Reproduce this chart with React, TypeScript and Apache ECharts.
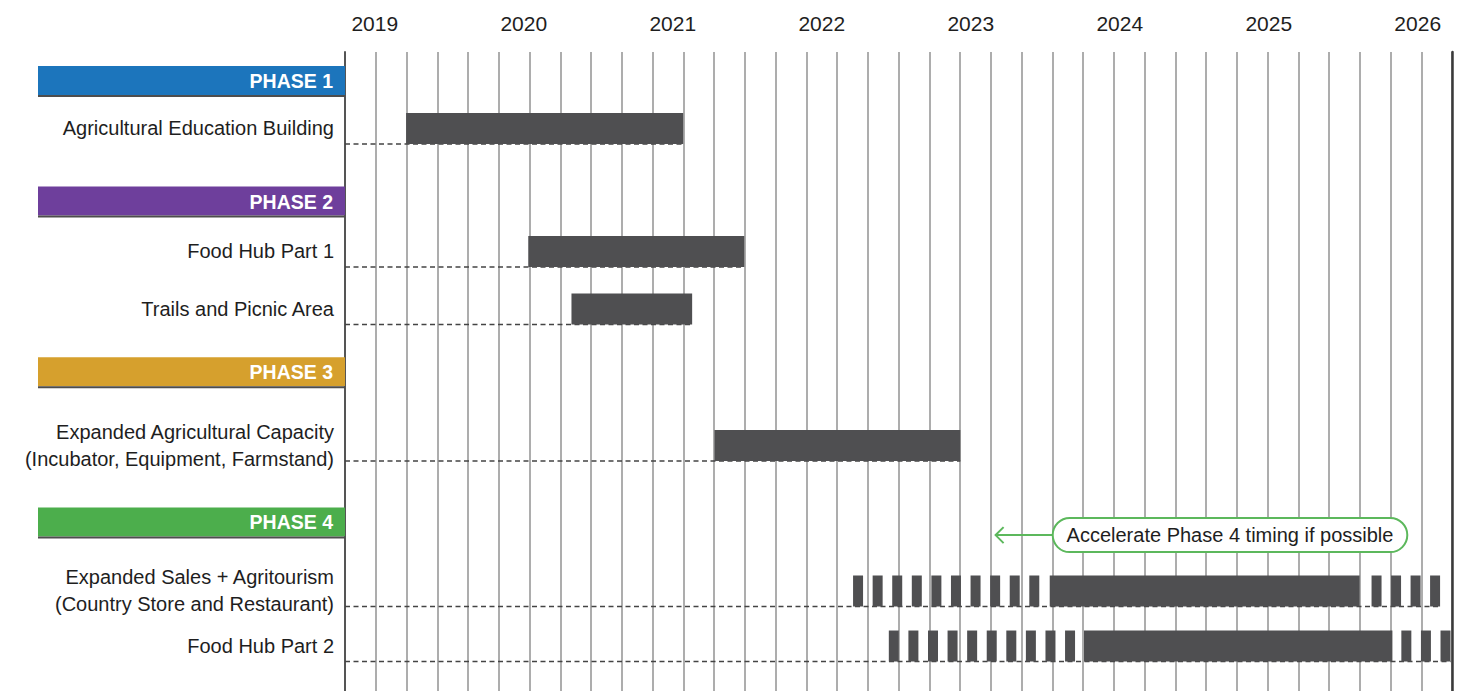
import React, { useEffect, useRef } from "react";
import * as echarts from "echarts";

// ---------------- data ----------------
const yearLabels = [2019, 2020, 2021, 2022, 2023, 2024, 2025, 2026];
const phaseNames = ["PHASE 1", "PHASE 2", "PHASE 3", "PHASE 4"];
const taskNames = [
  "Agricultural Education Building",
  "Food Hub Part 1",
  "Trails and Picnic Area",
  "Expanded Agricultural Capacity\n(Incubator, Equipment, Farmstand)",
  "Expanded Sales + Agritourism\n(Country Store and Restaurant)",
  "Food Hub Part 2",
];
const taskStart = [2019.21, 2020.03, 2020.32, 2021.28, 2023.53, 2023.76];
const taskEnd = [2021.07, 2021.48, 2021.13, 2022.93, 2025.61, 2025.83];
// tentative (dashed) periods for Phase 4 items
const earlyStart: (number | null)[] = [null, null, null, null, 2022.21, 2022.45];
const earlyEnd: (number | null)[] = [null, null, null, null, 2023.46, 2023.7];
const lateStart: (number | null)[] = [null, null, null, null, 2025.69, 2025.89];
const lateEnd: (number | null)[] = [null, null, null, null, 2026.15, 2026.22];
const noteText = "Accelerate Phase 4 timing if possible";
const noteArrowTo = 2023.16;
const noteBoxFrom = 2023.55;
const noteBoxTo = 2025.93;

// ---------------- layout ----------------
const X_MIN = 2018.8;
const X_MAX = 2026.23;
const COLUMNS = 36;
const phaseRow = [0.454, 2.34, 5.01, 7.363];
const taskRow = [1.197, 3.122, 4.022, 6.158, 8.435, 9.296];
const noteRow = 7.56;
const phaseColors = ["#1c75bc", "#6e3f9c", "#d6a02d", "#4cae4c"];
const BAR_COLOR = "#4f4f51";
const NOTE_COLOR = "#5cb85c";
const FONT = "Liberation Sans, Arial, Helvetica, sans-serif";

export default function App() {
  const ref = useRef<HTMLDivElement>(null);

  useEffect(() => {
    if (!ref.current) return;
    const chart = echarts.init(ref.current, undefined, { renderer: "svg" });

    const option: any = {
      animation: false,
      backgroundColor: "#ffffff",
      grid: {
        left: 345,
        right: 14,
        top: 52,
        bottom: 0,
        containLabel: false,
        outerBoundsMode: "none",
      },
      xAxis: [
        {
          type: "value",
          min: 0,
          max: COLUMNS,
          interval: 1,
          position: "bottom",
          axisLine: { show: false, onZero: false },
          axisTick: { show: false },
          axisLabel: { show: false },
          splitLine: { show: true, lineStyle: { color: "#929292", width: 1.5 } },
        },
        {
          type: "value",
          min: X_MIN,
          max: X_MAX,
          position: "top",
          axisLine: { show: false, onZero: false },
          axisTick: { show: false },
          splitLine: { show: false },
          axisLabel: {
            show: true,
            customValues: yearLabels,
            formatter: (v: number) => String(Math.round(v)),
            fontSize: 21,
            fontFamily: FONT,
            color: "#1e1e1e",
            margin: 18,
          },
        },
      ],
      yAxis: [
        {
          type: "value",
          inverse: true,
          min: 0,
          max: 10,
          position: "left",
          axisLine: { show: true, onZero: false, lineStyle: { color: "#555555", width: 2 } },
          axisTick: { show: false },
          splitLine: { show: false },
          axisLabel: {
            show: true,
            customValues: taskRow,
            formatter: (v: number) => {
              let best = 0;
              taskRow.forEach((r, i) => {
                if (Math.abs(r - v) < Math.abs(taskRow[best] - v)) best = i;
              });
              return taskNames[best];
            },
            fontSize: 20,
            fontFamily: FONT,
            color: "#1e1e1e",
            lineHeight: 27,
            margin: 11,
            align: "right",
          },
        },
        {
          type: "value",
          inverse: true,
          min: 0,
          max: 10,
          position: "right",
          axisLine: { show: true, onZero: false, lineStyle: { color: "#3a3a3a", width: 2.5 } },
          axisTick: { show: false },
          axisLabel: { show: false },
          splitLine: { show: false },
        },
      ],
      series: [
        {
          type: "custom",
          name: "phases",
          coordinateSystem: "cartesian2d",
          xAxisIndex: 1,
          yAxisIndex: 0,
          clip: false,
          data: phaseNames.map((_, i) => [X_MIN, phaseRow[i]]),
          renderItem: (params: any, api: any) => {
            const i = params.dataIndex;
            const p = api.coord([X_MIN, phaseRow[i]]);
            const right = params.coordSys.x;
            const width = 307;
            const yc = p[1];
            return {
              type: "group",
              children: [
                {
                  type: "rect",
                  shape: { x: right - width, y: yc - 15, width, height: 29 },
                  style: { fill: phaseColors[i] },
                },
                {
                  type: "rect",
                  shape: { x: right - width, y: yc + 14, width, height: 2 },
                  style: { fill: "#4d4d4d" },
                },
                {
                  type: "text",
                  x: right - 12,
                  y: yc,
                  style: {
                    text: phaseNames[i],
                    fill: "#ffffff",
                    fontSize: 19.5,
                    fontWeight: "bold",
                    fontFamily: FONT,
                    align: "right",
                    verticalAlign: "middle",
                  },
                },
              ],
            };
          },
        },
        {
          type: "custom",
          name: "tasks",
          coordinateSystem: "cartesian2d",
          xAxisIndex: 1,
          yAxisIndex: 0,
          clip: false,
          data: taskNames.map((_, i) => [taskStart[i], taskEnd[i], taskRow[i]]),
          renderItem: (params: any, api: any) => {
            const i = params.dataIndex;
            const left = params.coordSys.x;
            const p0 = api.coord([taskStart[i], taskRow[i]]);
            const p1 = api.coord([taskEnd[i], taskRow[i]]);
            const h = 31;
            const top = p0[1] - h / 2;
            const bottom = p0[1] + h / 2;
            const children: any[] = [];
            const endVal = lateEnd[i] != null ? (lateEnd[i] as number) : taskEnd[i];
            const leaderEnd = api.coord([endVal, taskRow[i]])[0];
            children.push({
              type: "line",
              shape: { x1: left, y1: bottom, x2: leaderEnd, y2: bottom },
              style: { stroke: "#444444", lineWidth: 1.6, lineDash: [5, 3.5] },
            });
            const dashes = (a: number, b: number) => {
              const pa = api.coord([a, taskRow[i]])[0];
              const pb = api.coord([b, taskRow[i]])[0];
              const w = 10;
              const n = Math.max(1, Math.round((pb - pa - w) / 19.7) + 1);
              const step = n > 1 ? (pb - pa - w) / (n - 1) : 0;
              for (let k = 0; k < n; k++) {
                children.push({
                  type: "rect",
                  shape: { x: pa + k * step, y: top, width: w, height: h },
                  style: { fill: BAR_COLOR },
                });
              }
            };
            if (earlyStart[i] != null && earlyEnd[i] != null) dashes(earlyStart[i] as number, earlyEnd[i] as number);
            if (lateStart[i] != null && lateEnd[i] != null) dashes(lateStart[i] as number, lateEnd[i] as number);
            children.push({
              type: "rect",
              shape: { x: p0[0], y: top, width: p1[0] - p0[0], height: h },
              style: { fill: BAR_COLOR },
            });
            return { type: "group", children };
          },
        },
        {
          type: "custom",
          name: "note",
          coordinateSystem: "cartesian2d",
          xAxisIndex: 1,
          yAxisIndex: 0,
          clip: false,
          data: [[noteArrowTo, noteRow]],
          renderItem: (params: any, api: any) => {
            const tip = api.coord([noteArrowTo, noteRow]);
            const b0 = api.coord([noteBoxFrom, noteRow])[0];
            const b1 = api.coord([noteBoxTo, noteRow])[0];
            const y = tip[1];
            return {
              type: "group",
              children: [
                {
                  type: "line",
                  shape: { x1: tip[0] + 1, y1: y, x2: b0, y2: y },
                  style: { stroke: NOTE_COLOR, lineWidth: 2 },
                },
                {
                  type: "polyline",
                  shape: { points: [[tip[0] + 9, y - 8], [tip[0] + 1, y], [tip[0] + 9, y + 8]] },
                  style: { stroke: NOTE_COLOR, lineWidth: 2, fill: null },
                },
                {
                  type: "rect",
                  shape: { x: b0, y: y - 17, width: b1 - b0, height: 34, r: 17 },
                  style: { fill: "#ffffff", stroke: NOTE_COLOR, lineWidth: 2 },
                },
                {
                  type: "text",
                  x: (b0 + b1) / 2,
                  y: y,
                  style: {
                    text: noteText,
                    fill: "#1e1e1e",
                    fontSize: 20,
                    fontFamily: FONT,
                    align: "center",
                    verticalAlign: "middle",
                  },
                },
              ],
            };
          },
        },
      ],
    };

    chart.setOption(option);
    return () => {
      chart.dispose();
    };
  }, []);

  return (
    <div
      ref={ref}
      style={{ position: "fixed", left: 0, top: 0, width: 1466, height: 691, background: "#fff" }}
    />
  );
}
